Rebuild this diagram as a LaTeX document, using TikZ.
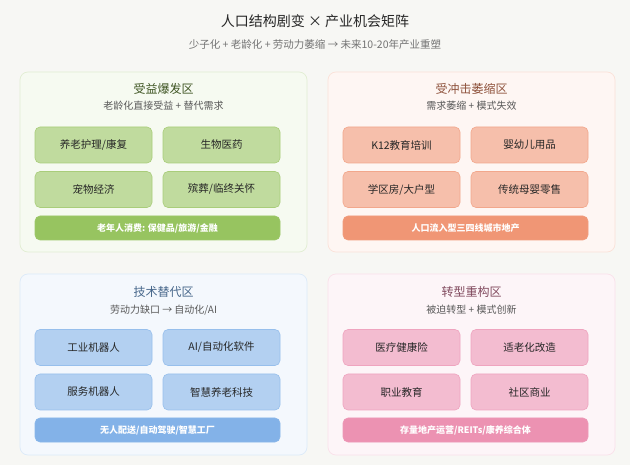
\documentclass[tikz,border=0pt]{standalone}
\usepackage{fontspec}
\setmainfont{Noto Sans CJK SC}
\begin{document}
\begin{tikzpicture}[x=1pt,y=-1pt,
 panel/.style={draw=#1!25!white,fill=#1!8!white,rounded corners=8pt,line width=0.7pt},
 box/.style={draw=#1!75!white,fill=#1!55!white,rounded corners=5pt,line width=0.6pt,minimum width=117pt,minimum height=36pt,font=\fontsize{10.5}{12}\selectfont,text=black!85},
 bar/.style={draw=#1!85!white,fill=#1!90!white,rounded corners=5pt,line width=0.6pt,minimum width=245pt,minimum height=24pt,font=\fontsize{9}{10}\selectfont\bfseries,text=white},
 ptitle/.style={font=\fontsize{12}{13}\selectfont,text=#1},
 psub/.style={font=\fontsize{10}{11}\selectfont,text=black!65}]
\definecolor{G}{HTML}{8CBD4E}\definecolor{O}{HTML}{EE8A66}
\definecolor{B}{HTML}{75AAE6}\definecolor{P}{HTML}{EA86AA}
\fill[fill={rgb,255:red,247;green,247;blue,244}] (0,0) rectangle (630,465);
\node[font=\fontsize{14}{15}\selectfont,text=black!85] (t) at (315,21) {人口结构剧变 × 产业机会矩阵};
\node[font=\fontsize{10.5}{12}\selectfont,text=black!55] (s) at (315,45) {少子化 + 老龄化 + 劳动力萎缩 → 未来10-20年产业重塑};
% panels
\draw[panel=G] (20,72) rectangle (307,252);
\draw[panel=O] (328,72) rectangle (615,252);
\draw[panel=B] (20,274) rectangle (307,455);
\draw[panel=P] (328,274) rectangle (615,455);
\node[ptitle={G!45!black}] (pt1) at (163.5,89) {受益爆发区};
\node[psub] (ps1) at (163.5,106) {老龄化直接受益 + 替代需求};
\node[ptitle={O!60!black}] (pt2) at (471.5,89) {受冲击萎缩区};
\node[psub] (ps2) at (471.5,106) {需求萎缩 + 模式失效};
\node[ptitle={B!60!black}] (pt3) at (163.5,292) {技术替代区};
\node[psub] (ps3) at (163.5,310) {劳动力缺口 → 自动化/AI};
\node[ptitle={P!55!black}] (pt4) at (471.5,292) {转型重构区};
\node[psub] (ps4) at (471.5,310) {被迫转型 + 模式创新};
% boxes
\node[box=G] (a1) at (93.5,145) {养老护理/康复};
\node[box=G] (a2) at (221.5,145) {生物医药};
\node[box=G] (a3) at (93.5,189.5) {宠物经济};
\node[box=G] (a4) at (221.5,189.5) {殡葬/临终关怀};
\node[bar=G] (a5) at (157.5,228) {老年人消费: 保健品/旅游/金融};
\node[box=O] (b1) at (401.5,145) {K12教育培训};
\node[box=O] (b2) at (529.5,145) {婴幼儿用品};
\node[box=O] (b3) at (401.5,189.5) {学区房/大户型};
\node[box=O] (b4) at (529.5,189.5) {传统母婴零售};
\node[bar=O] (b5) at (465.5,228) {人口流入型三四线城市地产};
\node[box=B] (c1) at (93.5,347.5) {工业机器人};
\node[box=B] (c2) at (221.5,347.5) {AI/自动化软件};
\node[box=B] (c3) at (93.5,392) {服务机器人};
\node[box=B] (c4) at (221.5,392) {智慧养老科技};
\node[bar=B] (c5) at (157.5,430) {无人配送/自动驾驶/智慧工厂};
\node[box=P] (d1) at (401.5,347.5) {医疗健康险};
\node[box=P] (d2) at (529.5,347.5) {适老化改造};
\node[box=P] (d3) at (401.5,392) {职业教育};
\node[box=P] (d4) at (529.5,392) {社区商业};
\node[bar=P] (d5) at (465.5,430) {存量地产运营/REITs/康养综合体};
\end{tikzpicture}
\end{document}
